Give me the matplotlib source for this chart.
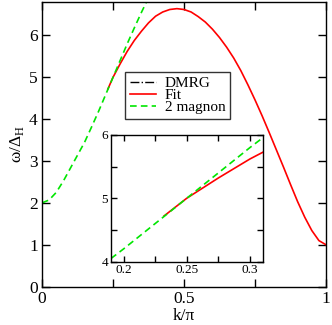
import matplotlib
matplotlib.use("Agg")
import matplotlib.pyplot as plt
from matplotlib.ticker import MultipleLocator, FixedLocator

plt.rcParams['font.family'] = ['Liberation Serif', 'DejaVu Serif']
plt.rcParams['mathtext.fontset'] = 'custom'
plt.rcParams['mathtext.rm'] = 'Liberation Serif'

# 2 magnon curve
k_mag = [0.0, 0.025, 0.05, 0.075, 0.1, 0.125, 0.15, 0.175, 0.2, 0.225,
         0.25, 0.275, 0.3, 0.325, 0.35, 0.375, 0.39]
w_mag = [2.0, 2.07, 2.25, 2.52, 2.83, 3.14, 3.45, 3.82, 4.2, 4.6,
         5.0, 5.4, 5.8, 6.18, 6.55, 6.9, 7.1]

# Fit curve
k_fit = [0.232, 0.25, 0.275, 0.3, 0.325, 0.35, 0.375, 0.4, 0.425, 0.45,
         0.475, 0.5, 0.525, 0.55, 0.575, 0.6, 0.625, 0.65, 0.675, 0.7,
         0.725, 0.75, 0.775, 0.8, 0.825, 0.85, 0.875, 0.9, 0.925, 0.95,
         0.975, 1.0]
w_fit = [4.72, 5.0, 5.32, 5.62, 5.88, 6.1, 6.3, 6.46, 6.56, 6.62,
         6.64, 6.62, 6.56, 6.45, 6.32, 6.15, 5.95, 5.72, 5.46, 5.16,
         4.82, 4.46, 4.08, 3.68, 3.27, 2.86, 2.44, 2.03, 1.66, 1.34,
         1.1, 1.0]

# DMRG points (none visible in the picture)
k_dmrg = []
w_dmrg = []

red = '#ff0000'
green = '#00e600'

fig = plt.figure(figsize=(3.32, 3.25), dpi=100)
ax = fig.add_axes([0.1265, 0.118, 0.8555, 0.876])

ax.plot(k_dmrg, w_dmrg, color='black', ls='-.', lw=1.0, label='DMRG')
ax.plot(k_fit, w_fit, color=red, lw=1.2, label='Fit')
ax.plot(k_mag, w_mag, color=green, lw=1.2, dashes=(4, 2.5), label='2 magnon')

ax.set_xlim(0, 1)
ax.set_ylim(0, 6.8)
ax.xaxis.set_major_locator(FixedLocator([0, 0.5, 1]))
ax.xaxis.set_minor_locator(FixedLocator([0.25, 0.75]))
ax.set_xticklabels(['0', '0.5', '1'])
ax.yaxis.set_major_locator(MultipleLocator(1))
ax.tick_params(which='both', direction='in', top=True, right=True,
               length=6, width=1, labelsize=12.5, pad=3)
for s in ax.spines.values():
    s.set_linewidth(1.0)
ax.set_xlabel('k/π', fontsize=12.5, labelpad=1)
ax.set_ylabel(r'ω/Δ$_\mathrm{H}$', fontsize=12.5, labelpad=2)

leg = ax.legend(loc='upper left', bbox_to_anchor=(0.292, 0.754),
                borderaxespad=0, fontsize=11, frameon=True, fancybox=False,
                handlelength=1.75, handletextpad=0.55, labelspacing=-0.12,
                borderpad=0.3)
leg.get_frame().set_edgecolor('black')
leg.get_frame().set_linewidth(1.0)

# inset
axi = fig.add_axes([0.334, 0.195, 0.457, 0.39])
axi.plot(k_fit, w_fit, color=red, lw=1.2)
axi.plot(k_mag, w_mag, color=green, lw=1.2, dashes=(4, 2.5))
axi.set_xlim(0.19, 0.31)
axi.set_ylim(4, 6)
axi.xaxis.set_major_locator(MultipleLocator(0.05))
axi.xaxis.set_minor_locator(MultipleLocator(0.025))
axi.yaxis.set_major_locator(MultipleLocator(1))
axi.yaxis.set_minor_locator(MultipleLocator(0.5))
axi.xaxis.set_major_formatter(plt.FuncFormatter(lambda v, p: f'{v:g}'))
axi.tick_params(which='both', direction='in', top=True, right=True,
                length=4, width=1, labelsize=9.5, pad=2)
for s in axi.spines.values():
    s.set_linewidth(1.0)

fig.savefig('out.png', dpi=100)
